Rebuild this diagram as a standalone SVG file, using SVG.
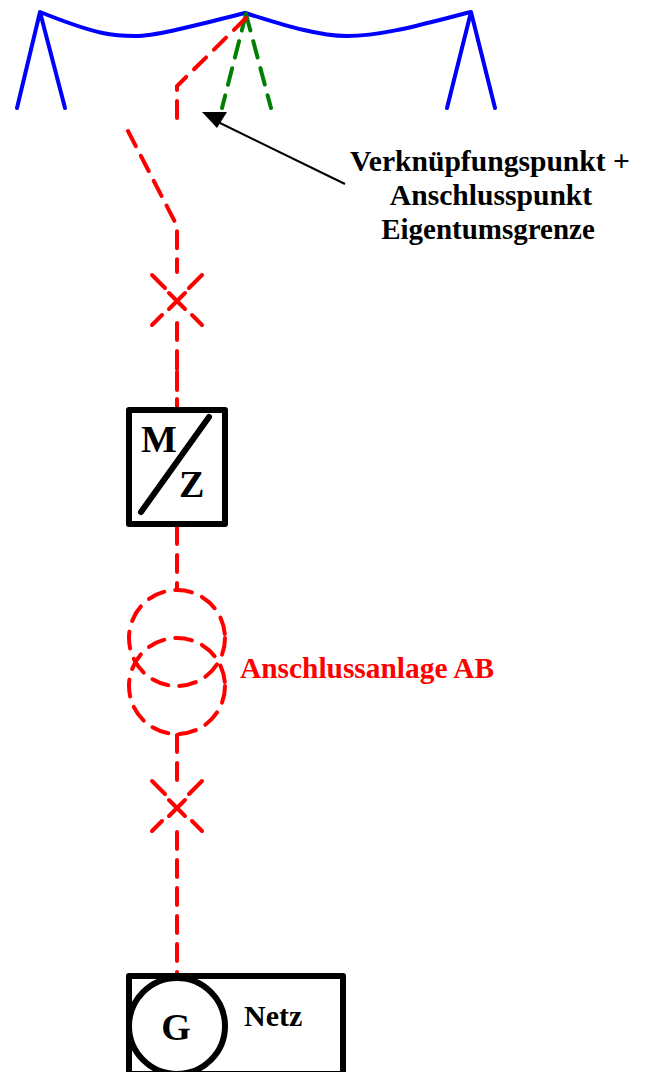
<svg xmlns="http://www.w3.org/2000/svg" width="646" height="1072" viewBox="0 0 646 1072">
<style>
text{font-family:"Liberation Serif","Times New Roman",serif;font-weight:bold;fill:#000}
.l{font-size:29.6px;text-anchor:middle}
.big{font-size:38px}
.blue{fill:none;stroke:#00f;stroke-width:4;stroke-linecap:round;stroke-linejoin:round}
.red{fill:none;stroke:#f00;stroke-width:4;stroke-linecap:round;stroke-dasharray:17 11}
.solid{fill:none;stroke:#f00;stroke-width:4;stroke-linecap:round}
.green{fill:none;stroke:#008000;stroke-width:4;stroke-linecap:round;stroke-dasharray:17 11}
.blk{fill:none;stroke:#000;stroke-width:6;stroke-linejoin:round}
</style>
<g id="connectors">
<path class="blue" d="M17 108L40 12L65 108M40 12C100 36 115 36 135 36C160 36 215 20 245 13C275 22 315 36 347 36C385 36 430 22 471 12L447 108M471 12L495 108"/>
<path class="green" d="M246 14L222 108"/>
<path class="green" d="M246 14L271 108"/>
<path class="red" d="M246 18L177 86L177 126"/>
<path class="red" d="M128 131L175 222L177 228L177 272"/>
<path class="solid" d="M169 309L185 293M169 293L185 309M152 275L165 288M202 275L189 288M152 325L162 315M202 325L192 315M177 323L177 340M177 351L177 369M177 372L177 390M177 399L177 408"/>
<path class="red" d="M177 527L177 590"/>
<path class="red" d="M177 735L177 781"/>
<path class="solid" d="M169 816L185 800M169 800L185 816M152 781L165 794M202 781L189 794M152 831L162 821M202 831L192 821"/>
<path class="red" d="M177 832L177 975"/>
<path d="M218 122L345 184" fill="none" stroke="#000" stroke-width="2"/>
<polygon points="202,112 227,112 217,128" fill="#000"/>
</g>
<g id="anschlussanlage">
<circle class="red" cx="177" cy="638" r="48"/>
<circle class="red" cx="177" cy="686" r="48"/>
<text x="240" y="678" style="font-size:29.4px;fill:#f00">Anschlussanlage AB</text>
</g>
<g id="label-punkt">
<text class="l" x="490" y="171">Verknüpfungspunkt +</text>
<text class="l" x="491" y="205">Anschlusspunkt</text>
<text class="l" x="488" y="239" style="font-size:29px">Eigentumsgrenze</text>
</g>
<g id="zaehler">
<rect class="blk" x="129" y="410" width="96" height="114"/>
<path d="M141 512L209 417" fill="none" stroke="#000" stroke-width="6" stroke-linecap="round"/>
<text class="big" x="141" y="452">M</text>
<text class="big" x="179" y="497">Z</text>
</g>
<g id="netz">
<rect class="blk" x="129" y="976" width="214" height="98"/>
<circle class="blk" cx="177" cy="1026" r="48"/>
<text class="big" x="176" y="1040" text-anchor="middle">G</text>
<text x="244" y="1026" style="font-size:30px">Netz</text>
</g>
</svg>
